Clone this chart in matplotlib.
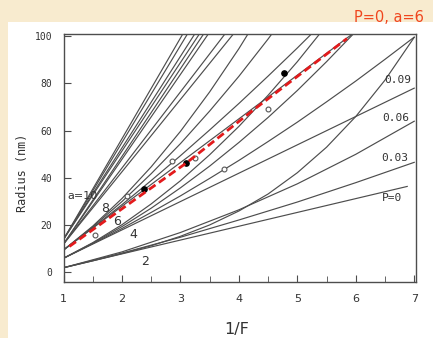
import matplotlib
matplotlib.use("Agg")
import matplotlib.pyplot as plt
from matplotlib.patches import Rectangle

# --- data (Radius in nm vs 1/F) ---
# a = 2 family, curves for P = 0, 0.03, 0.06, 0.09
x_a2 = [1, 2, 3, 4, 5, 6, 7]
x_a2_p0 = [1, 6.88]
r_a2_p0 = [2, 36.4]
r_a2 = [
    [2, 8.2, 14.9, 22.2, 29.8, 38, 46.6],
    [2, 8.7, 16.9, 26.5, 37.5, 50, 64],
]
x_a2_p9 = [1, 1.5, 2, 2.5, 3, 3.5, 4, 4.5, 5, 5.5, 6, 6.5, 7]
r_a2_p9 = [2, 4.9, 8, 11.3, 15.3, 20.1, 26, 33.2, 42.2, 53, 66, 81.4, 99.5]

# a = 4
x_a4 = [1, 1.5, 2, 2.5, 3, 3.5, 4, 4.5, 5, 5.5, 6, 6.5, 7]
r_a4_p0 = [6, 78]
r_a4 = [
    [6, 12.2, 18.6, 25.4, 32.4, 39.8, 47.4, 55.4, 63.6, 72.2, 81, 90.2, 99.6],
    [6, 12.4, 19.4, 27.2, 35.8, 45, 55, 65.6, 77, 89.2, 102, 115, 129],
    [6, 12.6, 20.2, 29, 38.8, 49.8, 61.8, 75, 89.2, 104.6, 121, 139, 157],
]

# a = 6
x_a6 = [1, 1.5, 2, 2.5, 3, 3.5, 4, 4.5, 5, 5.5, 6]
r_a6_p0 = [9.5, 102]
r_a6 = [
    [9.5, 18.9, 28.7, 38.9, 49.4, 60.3, 71.5, 83.1, 95, 107.3, 120],
    [9.5, 19.3, 30, 41.8, 54.5, 68.3, 83, 98.8, 115.5, 133, 152],
    [9.5, 19.6, 31.3, 44.7, 59.7, 76.4, 94.7, 114.7, 136, 159, 184],
]

# a = 8 and a = 10 (nearly straight fans)
x_a8 = [1, 4]
r_a8 = [[12, 103.8], [12, 108.6], [12, 119.7], [12, 123.3]]
x_a10 = [1, 3.5]
r_a10 = [[14, 107.5], [14, 110.8], [14, 116.5], [14, 120.5]]

# measured points
open_x = [1.53, 2.08, 2.85, 3.25, 3.75, 4.5]
open_r = [16, 32.3, 47.3, 48.4, 43.8, 69.2]
filled_x = [2.38, 3.1, 4.78]
filled_r = [35.3, 46.3, 84.5]

# red dashed fit (P=0, a=6)
fit_x = [1.1, 2.4, 3.1, 4.25, 5.85]
fit_r = [11, 34, 46.3, 68.8, 99]

xticks = [1, 2, 3, 4, 5, 6, 7]
yticks = [0, 20, 40, 60, 80, 100]

line_col = "#4d4d4d"
txt_col = "#333333"
lw = 0.85

fig = plt.figure(figsize=(4.33, 3.38), dpi=100, facecolor="#f8ebcf")
fig.patches.append(Rectangle((8 / 433, 0), 1, 1 - 22 / 338, transform=fig.transFigure,
                             facecolor="white", edgecolor="none", zorder=-1))
ax = fig.add_axes([0.1467, 0.166, 0.8140, 0.734])
ax.set_zorder(2)
ax.set_facecolor("white")

ax.plot(x_a2_p0, r_a2_p0, color=line_col, lw=lw)
for r in r_a2:
    ax.plot(x_a2, r, color=line_col, lw=lw)
ax.plot(x_a2_p9, r_a2_p9, color=line_col, lw=lw)
ax.plot([1, 7], r_a4_p0, color=line_col, lw=lw)
for r in r_a4:
    ax.plot(x_a4, r, color=line_col, lw=lw)
ax.plot([1, 6], r_a6_p0, color=line_col, lw=lw)
for r in r_a6:
    ax.plot(x_a6, r, color=line_col, lw=lw)
for r in r_a8:
    ax.plot(x_a8, r, color=line_col, lw=lw)
for r in r_a10:
    ax.plot(x_a10, r, color=line_col, lw=lw)

ax.plot(open_x, open_r, "o", ms=3.5, mfc="white", mec="#555555", mew=0.8)
ax.plot(filled_x, filled_r, "o", ms=3.8, color="black")

ax.plot(fit_x, fit_r, color="#e31a1c", lw=2, dashes=(2.9, 1.5))

# curve labels
ax.text(1.07, 32.5, "a=10", fontsize=8, color=txt_col, ha="left", va="center")
ax.text(1.71, 27, "8", fontsize=9, color=txt_col, ha="center", va="center")
ax.text(1.91, 21.7, "6", fontsize=9, color=txt_col, ha="center", va="center")
ax.text(2.2, 16, "4", fontsize=9, color=txt_col, ha="center", va="center")
ax.text(2.4, 4.8, "2", fontsize=9, color=txt_col, ha="center", va="center")
for xx, yy, s in [(6.71, 81.4, "0.09"), (6.69, 65.3, "0.06"),
                  (6.67, 48.4, "0.03"), (6.62, 31.5, "P=0")]:
    ax.text(xx, yy, s, fontsize=8, color=txt_col, ha="center", va="center",
            family="DejaVu Sans Mono")

ax.set_xlim(1, 7.03)
ax.set_ylim(-4, 101)
ax.set_xticks(xticks)
ax.set_xticks([1.5, 2.5, 3.5, 4.5, 5.5, 6.5], minor=True)
ax.set_yticks(yticks)
ax.tick_params(axis="both", which="both", direction="in", color=line_col)
ax.tick_params(axis="x", which="major", length=5, pad=9, labelsize=8, labelcolor=txt_col)
ax.tick_params(axis="x", which="minor", length=4)
ax.tick_params(axis="y", which="major", length=5, pad=8, labelsize=7, labelcolor=txt_col)
for lab in ax.get_yticklabels():
    lab.set_family("DejaVu Sans Mono")
for sp in ax.spines.values():
    sp.set_color(line_col)
    sp.set_linewidth(1)

ax.set_ylabel("Radius (nm)", fontsize=8.5, color=txt_col, family="DejaVu Sans Mono")
ax.yaxis.set_label_coords(-0.098, 0.44)
ax.set_xlabel("1/F", fontsize=11.5, color=txt_col)
ax.xaxis.set_label_coords(0.492, -0.162)

fig.text(0.978, 0.947, "P=0, a=6", color="#f0461e", fontsize=10.5, ha="right", va="center")

fig.savefig("out.png", dpi=100, facecolor=fig.get_facecolor())
